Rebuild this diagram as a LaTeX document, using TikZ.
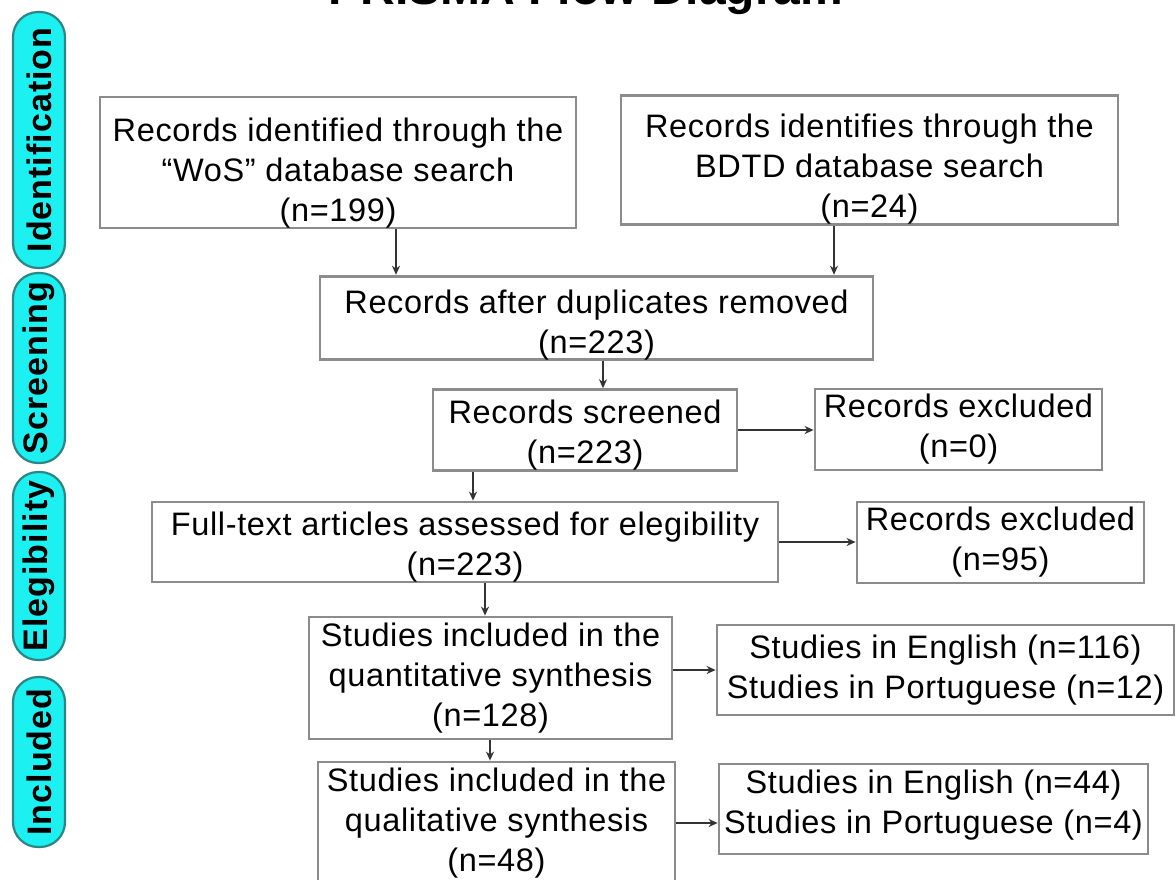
\documentclass[tikz,border=0pt]{standalone}
\usepackage{fontspec}
\setmainfont{Liberation Sans}[LetterSpace=2]
\newfontfamily\pillfont{Liberation Sans}[LetterSpace=3]
\newfontfamily\titlefont{Liberation Sans}
\usetikzlibrary{arrows.meta}
\definecolor{boxgray}{HTML}{8C8C8C}
\definecolor{pillfill}{HTML}{1CF0F0}
\definecolor{pilledge}{HTML}{2E8585}
\definecolor{arrowcol}{HTML}{333333}
\newcommand{\topsp}[1]{\rule{0pt}{#1}}
\newcommand{\botsp}[1]{\rule[-#1]{0pt}{0pt}}
\tikzset{
  box/.style={draw=boxgray, line width=2.8pt, fill=white, align=center, inner sep=0pt,
    font=\fontsize{32.5}{40}\selectfont, text=black},
  pill/.style={draw=pilledge, line width=2.2pt, fill=pillfill, rounded corners=25pt,
    rotate=90, minimum height=52pt, inner sep=0pt, font=\pillfont\bfseries\fontsize{34}{38}\selectfont},
  arr/.style={draw=arrowcol, line width=1.4pt, -{Stealth[length=9pt,width=8pt]}}
}
\begin{document}
\begin{tikzpicture}[x=1pt,y=-1pt]
\useasboundingbox (0,0) rectangle (1176,879);
\fill[white] (0,0) rectangle (1176,879);
% title (cut off at top, as in the reference)
\node[anchor=base, font=\titlefont\bfseries\fontsize{48}{50}\selectfont] (title) at (586,4) {PRISMA Flow Diagram};
% stage labels
\node[pill, minimum width=256pt] (pid) at (39,140) {Identification};
\node[pill, minimum width=190pt] (psc) at (39,368) {Screening};
\node[pill, minimum width=188pt] (pel) at (39,566) {Elegibility};
\node[pill, minimum width=170pt] (pin) at (39,762) {Included};
% boxes
\node[box, minimum width=476pt, minimum height=131pt] (b1) at (338,162.5)
  {\topsp{44pt}Records identified through the\\``WoS'' database search\\(n=199)};
\node[box, minimum width=497pt, minimum height=126pt] (b2) at (869.5,160)
  {\topsp{42pt}Records identifies through the\\BDTD database search\\(n=24)};
\node[box, minimum width=553pt, minimum height=80pt] (b3) at (596.5,318)
  {\topsp{37pt}Records after duplicates removed\\(n=223)};
\node[box, minimum width=304pt, minimum height=80pt] (b4) at (585,430)
  {\topsp{34pt}Records screened\\(n=223)};
\node[box, minimum width=287pt, minimum height=81pt] (b5) at (958.5,429.5)
  {Records excluded\\(n=0)};
\node[box, minimum width=626pt, minimum height=80pt] (b6) at (465,542)
  {\topsp{33pt}Full-text articles assessed for elegibility\\(n=223)};
\node[box, minimum width=287pt, minimum height=81pt] (b7) at (1000.5,542.5)
  {Records excluded\\(n=95)};
\node[box, minimum width=363pt, minimum height=122pt] (b8) at (490.5,678)
  {Studies included in the\\quantitative synthesis\\(n=128)};
\node[box, minimum width=457pt, minimum height=90pt] (b9) at (945.5,670)
  {Studies in English (n=116)\\Studies in Portuguese (n=12)};
\node[box, minimum width=357pt, minimum height=122pt] (b10) at (496.5,823)
  {Studies included in the\\qualitative synthesis\\(n=48)};
\node[box, minimum width=429pt, minimum height=90pt] (b11) at (933.5,809)
  {Studies in English (n=44)\\Studies in Portuguese (n=4)\botsp{15pt}};
% arrow x positions
\coordinate (x1) at (396,0);
\coordinate (x2) at (834,0);
\coordinate (x3) at (603,0);
\coordinate (x4) at (473,0);
\coordinate (x5) at (485,0);
\coordinate (x6) at (490,0);
% connectors
\draw[arr] (b1.south -| x1) -- (b3.north -| x1);
\draw[arr] (b2.south -| x2) -- (b3.north -| x2);
\draw[arr] (b3.south -| x3) -- (b4.north -| x3);
\draw[arr] (b4.east) -- (b4.east -| b5.west);
\draw[arr] (b4.south -| x4) -- (b6.north -| x4);
\draw[arr] (b6.east) -- (b6.east -| b7.west);
\draw[arr] (b6.south -| x5) -- (b8.north -| x5);
\draw[arr] (b8.east |- b9.west) -- (b9.west);
\draw[arr] (b8.south -| x6) -- (b10.north -| x6);
\draw[arr] (b10.east) -- (b10.east -| b11.west);
\end{tikzpicture}
\end{document}
